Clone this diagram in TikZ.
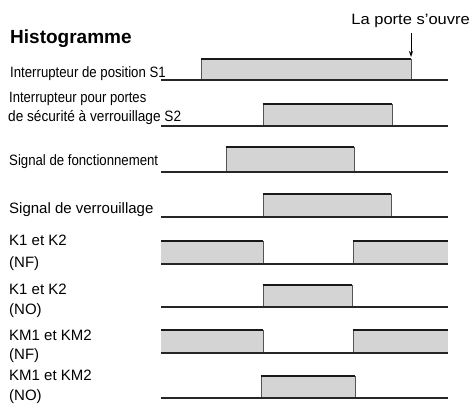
\documentclass[tikz,border=0pt]{standalone}
\usepackage{fontspec}
\setmainfont{Liberation Sans}
\usetikzlibrary{arrows.meta}
\definecolor{boxgray}{HTML}{D4D4D4}
\definecolor{edgegray}{HTML}{555555}
\tikzset{
  lbl/.style={anchor=base west, inner sep=0pt, font=\fontsize{15}{20}\selectfont},
  sigbase/.style={line width=1.3pt, draw=black!85},
  topedge/.style={line width=2.6pt, draw=black!90},
  sideedge/.style={line width=0.9pt, draw=edgegray},
  pulse/.style={fill=boxgray},
}
\newcommand{\pulsebox}[4]{% x1,x2,top,base
  \fill[pulse] (#1,#3) rectangle (#2,#4);
  \draw[sideedge] (#1,#4) -- (#1,#3) (#2,#3) -- (#2,#4);
  \draw[topedge] (#1-0.5,#3) -- (#2+0.4,#3);
}
\newcommand{\openleft}[4]{% box starting at left border
  \fill[pulse] (#1,#3) rectangle (#2,#4);
  \draw[sideedge] (#2,#3) -- (#2,#4);
  \draw[topedge] (#1,#3) -- (#2+0.4,#3);
}
\newcommand{\openright}[4]{% box ending at right border
  \fill[pulse] (#1,#3) rectangle (#2,#4);
  \draw[sideedge] (#1,#4) -- (#1,#3);
  \draw[topedge] (#1-0.5,#3) -- (#2,#3);
}
\begin{document}
\begin{tikzpicture}[x=1pt,y=-1pt]
\useasboundingbox (0,0) rectangle (472,407);
% title and arrow label
\node[anchor=base west, inner sep=0pt, font=\fontsize{19}{22}\selectfont\bfseries] (title) at (10,43) {Histogramme};
\node[anchor=base east, inner sep=0pt, font=\fontsize{15}{20}\selectfont] (porte) at (470,24) {\scalebox{1.1}[1]{La porte s'ouvre}};
% row 1: S1
\pulsebox{201}{411}{59}{80}
\draw[sigbase] (161,80) -- (448,80);
\node[lbl] (s1) at (10,77) {\scalebox{0.88}[1]{Interrupteur de position S1}};
\coordinate (arrtop) at (411,33);
\coordinate (arrtip) at (411,57);
\draw[line width=0.8pt, -{Stealth[length=6pt,width=4pt]}] (arrtop) -- (arrtip);
% row 2: S2
\pulsebox{263}{392}{104}{126}
\draw[sigbase] (161,126) -- (448,126);
\node[lbl] (s2a) at (9,102) {\scalebox{0.87}[1]{Interrupteur pour portes}};
\node[lbl] (s2b) at (8,121) {\scalebox{0.91}[1]{de sécurité à verrouillage S2}};
% row 3: fonctionnement
\pulsebox{226}{354}{147}{172}
\draw[sigbase] (161,172) -- (448,172);
\node[lbl] (fonc) at (9,165) {\scalebox{0.88}[1]{Signal de fonctionnement}};
% row 4: verrouillage
\pulsebox{263}{391}{194}{217}
\draw[sigbase] (161,217) -- (448,217);
\node[lbl] (verr) at (9,213) {Signal de verrouillage};
% row 5: K1 K2 NF
\openleft{161}{263}{241}{264}
\openright{353}{448}{241}{264}
\draw[sigbase] (161,264) -- (448,264);
\node[lbl] (knfa) at (9,245) {K1 et K2};
\node[lbl] (knfb) at (9,267) {(NF)};
% row 6: K1 K2 NO
\pulsebox{263}{352}{285}{307}
\draw[sigbase] (161,307) -- (448,307);
\node[lbl] (knoa) at (9,294) {K1 et K2};
\node[lbl] (knob) at (9,314) {(NO)};
% row 7: KM NF
\openleft{161}{263}{330}{353}
\openright{353}{448}{330}{353}
\draw[sigbase, line width=2pt] (161,353) -- (448,353);
\node[lbl] (kmnfa) at (9,340) {KM1 et KM2};
\node[lbl] (kmnfb) at (9,359) {(NF)};
% row 8: KM NO
\pulsebox{261}{355}{376}{398}
\draw[sigbase] (161,398) -- (448,398);
\node[lbl] (kmnoa) at (9,380) {KM1 et KM2};
\node[lbl] (kmnob) at (9,400) {(NO)};
\end{tikzpicture}
\end{document}
